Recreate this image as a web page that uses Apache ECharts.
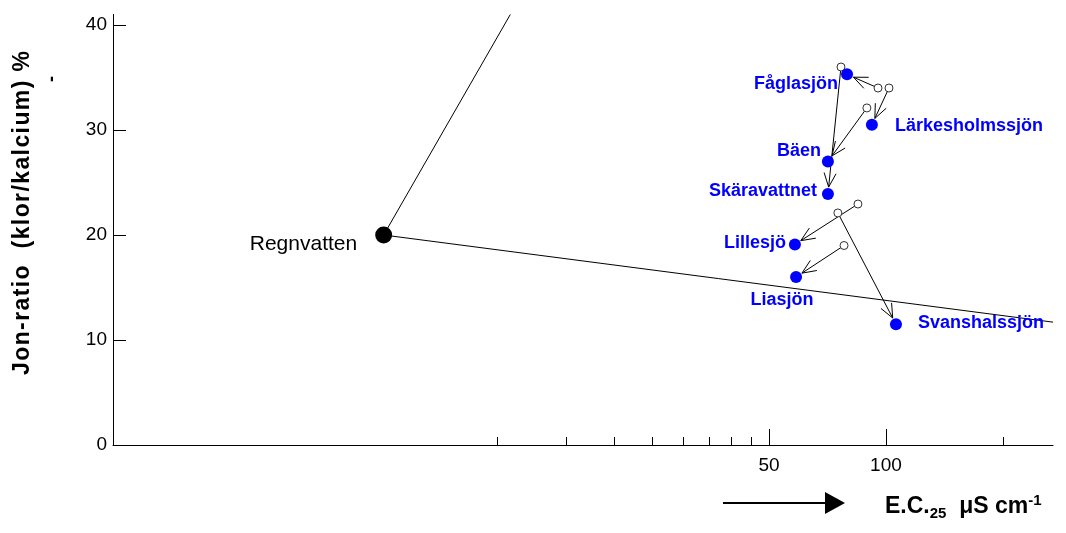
<!DOCTYPE html>
<html>
<head>
<meta charset="utf-8">
<title>Jon-ratio och konduktivitet</title>
<script src="https://cdn.jsdelivr.net/npm/echarts@6/dist/echarts.min.js"></script>
<style>
  html, body { margin: 0; padding: 0; background: #fff; }
  #chart { width: 1066px; height: 533px; }
</style>
</head>
<body>
<div id="chart"></div>
<script>
// Lakes: present-day conductivity (E.C.25, µS/cm) and chloride/calcium ratio (%)
const lakes = ['Fåglasjön', 'Lärkesholmssjön', 'Bäen', 'Skäravattnet', 'Lillesjö', 'Liasjön', 'Svanshalssjön'];
const ecNow = [79.4, 92.0, 70.9, 70.9, 58.3, 58.7, 106.1];
const ratioNow = [35.3, 30.5, 27.0, 23.9, 19.1, 16.0, 11.5];
// Earlier values for the same lakes (start of each arrow)
const ecBefore = [95.4, 101.8, 89.3, 76.6, 84.7, 78.0, 75.2];
const ratioBefore = [34.0, 34.0, 32.1, 36.0, 22.95, 19.0, 22.1];

// Rain water and the two mixing lines drawn from it
const rainName = 'Regnvatten';
const rainEc = 5.1;
const rainRatio = 20;
const mixLineUpper = [[5.1, 20], [10.8, 41]];
const mixLineLower = [[5.1, 20], [269, 11.7]];

// Axis ranges and tick values
const ecMin = 1.026, ecMax = 269;
const ratioMin = 0, ratioMax = 41;
const ecLabelTicks = [50, 100];
const ecMinorTicks = [10, 15, 20, 25, 30, 35, 40, 45, 200];
const ratioTicks = [0, 10, 20, 30, 40];

const yTitle = 'Jon-ratio  (klor/kalcium) %';

const FONT = '"Liberation Sans", Arial, sans-serif';
const BLUE = '#0000ff';

// Label placement around each lake marker
const labelPlacement = {
  'Fåglasjön':       { position: 'left',   distance: 3,  offset: [0, 10] },
  'Lärkesholmssjön': { position: 'right',  distance: 17, offset: [0, 1] },
  'Bäen':            { position: 'left',   distance: 1,  offset: [0, -10] },
  'Skäravattnet':    { position: 'left',   distance: 5,  offset: [0, -3] },
  'Lillesjö':        { position: 'left',   distance: 3,  offset: [0, -1] },
  'Liasjön':         { position: 'bottom', distance: 8,  offset: [-14, 0] },
  'Svanshalssjön':   { position: 'right',  distance: 16, offset: [0, -1] }
};

const nowData = lakes.map((name, i) => ({
  name: name,
  value: [ecNow[i], ratioNow[i]],
  label: labelPlacement[name]
}));
const beforeData = lakes.map((name, i) => [ecBefore[i], ratioBefore[i]]);
const arrowData = lakes.map((name, i) => [ecBefore[i], ratioBefore[i], ecNow[i], ratioNow[i]]);

// Arrow from earlier to present value, with an open V head
const ARROW_GAP = 7, HEAD_LEN = 14, HEAD_HALF = 6;
function renderArrow(params, api) {
  const p0 = api.coord([api.value(0), api.value(1)]);
  const p1 = api.coord([api.value(2), api.value(3)]);
  const dx = p1[0] - p0[0], dy = p1[1] - p0[1];
  const len = Math.sqrt(dx * dx + dy * dy) || 1;
  const ux = dx / len, uy = dy / len;
  const tip = [p1[0] - ux * ARROW_GAP, p1[1] - uy * ARROW_GAP];
  const back = [tip[0] - ux * HEAD_LEN, tip[1] - uy * HEAD_LEN];
  const w1 = [back[0] - uy * HEAD_HALF, back[1] + ux * HEAD_HALF];
  const w2 = [back[0] + uy * HEAD_HALF, back[1] - ux * HEAD_HALF];
  return {
    type: 'group',
    children: [
      { type: 'line', shape: { x1: p0[0], y1: p0[1], x2: tip[0], y2: tip[1] },
        style: { stroke: '#000', lineWidth: 1 } },
      { type: 'polyline', shape: { points: [w1, tip, w2] },
        style: { stroke: '#000', fill: null, lineWidth: 1 } }
    ]
  };
}

// Slightly spaced bold title: one rich-text token per character
const spacedTitle = yTitle.split('').map(ch => '{c|' + ch + '}').join('');

const chart = echarts.init(document.getElementById('chart'), null, { renderer: 'canvas' });

const logAxisBase = {
  type: 'log',
  logBase: 10,
  min: ecMin,
  max: ecMax,
  splitLine: { show: false },
  minorTick: { show: false },
  minorSplitLine: { show: false }
};

chart.setOption({
  animation: false,
  backgroundColor: '#fff',
  grid: { left: 113, right: 13, top: 14.5, bottom: 88, containLabel: false },
  xAxis: [
    Object.assign({}, logAxisBase, {
      position: 'bottom',
      axisLine: { show: true, lineStyle: { color: '#000', width: 1 } },
      axisTick: { show: true, inside: true, length: 8, customValues: ecMinorTicks,
                  lineStyle: { color: '#000', width: 1 } },
      axisLabel: { show: true, customValues: ecLabelTicks, margin: 11,
                   color: '#000', fontSize: 19, fontFamily: FONT,
                   formatter: v => String(Math.round(v)) }
    }),
    Object.assign({}, logAxisBase, {
      position: 'bottom',
      axisLine: { show: false },
      axisTick: { show: true, inside: true, length: 16, customValues: ecLabelTicks,
                  lineStyle: { color: '#000', width: 1 } },
      axisLabel: { show: false }
    })
  ],
  yAxis: {
    type: 'value',
    min: ratioMin,
    max: ratioMax,
    splitLine: { show: false },
    axisLine: { show: true, lineStyle: { color: '#000', width: 1 } },
    axisTick: { show: true, inside: true, length: 13, customValues: ratioTicks,
                lineStyle: { color: '#000', width: 1 } },
    axisLabel: { show: true, customValues: ratioTicks, margin: 6,
                 color: '#000', fontSize: 19, fontFamily: FONT }
  },
  series: [
    {
      name: 'Blandningslinje 1',
      type: 'line',
      data: mixLineUpper,
      symbol: 'none',
      clip: false,
      lineStyle: { color: '#000', width: 1 },
      z: 2
    },
    {
      name: 'Blandningslinje 2',
      type: 'line',
      data: mixLineLower,
      symbol: 'none',
      clip: false,
      lineStyle: { color: '#000', width: 1 },
      z: 2
    },
    {
      name: 'Förändring',
      type: 'custom',
      renderItem: renderArrow,
      data: arrowData,
      encode: { x: [0, 2], y: [1, 3] },
      clip: false,
      z: 3
    },
    {
      name: 'Tidigare',
      type: 'scatter',
      data: beforeData,
      symbol: 'circle',
      symbolSize: 8,
      itemStyle: { color: '#fff', borderColor: '#333', borderWidth: 1, opacity: 1 },
      z: 4
    },
    {
      name: 'Sjöar',
      type: 'scatter',
      data: nowData,
      symbol: 'circle',
      symbolSize: 12,
      itemStyle: { color: BLUE, opacity: 1 },
      label: {
        show: true,
        formatter: '{b}',
        color: BLUE,
        opacity: 1,
        fontSize: 18,
        fontWeight: 'bold',
        fontFamily: FONT
      },
      z: 5
    },
    {
      name: rainName,
      type: 'scatter',
      data: [{ name: rainName, value: [rainEc, rainRatio] }],
      symbol: 'circle',
      symbolSize: 17,
      itemStyle: { color: '#000', opacity: 1 },
      label: {
        show: true,
        formatter: '{b}',
        position: 'left',
        distance: 18,
        offset: [0, 9],
        color: '#000',
        opacity: 1,
        fontSize: 21,
        fontFamily: FONT
      },
      z: 5
    }
  ],
  graphic: [
    {
      type: 'text',
      x: 23, y: 213,
      rotation: Math.PI / 2,
      style: {
        text: spacedTitle,
        align: 'center',
        verticalAlign: 'middle',
        rich: {
          c: { font: 'bold 23px ' + FONT, fill: '#000', padding: [0, 0.7, 0, 0.7] }
        }
      }
    },
    {
      type: 'text',
      x: 52, y: 79,
      rotation: Math.PI / 2,
      style: { text: '-', font: 'bold 18px ' + FONT, fill: '#000', align: 'center', verticalAlign: 'middle' }
    },
    {
      type: 'line',
      shape: { x1: 723, y1: 503, x2: 828, y2: 503 },
      style: { stroke: '#000', lineWidth: 2 }
    },
    {
      type: 'polygon',
      shape: { points: [[825, 492], [845, 503], [825, 514]] },
      style: { fill: '#000' }
    },
    {
      type: 'text',
      x: 885, y: 521,
      style: {
        text: '{m|E.C.}{s|25}{m|  μS cm}{p|-1}',
        align: 'left',
        verticalAlign: 'bottom',
        rich: {
          m: { font: 'bold 23px ' + FONT, fill: '#000', lineHeight: 28, verticalAlign: 'middle' },
          s: { font: 'bold 15px ' + FONT, fill: '#000', lineHeight: 16, verticalAlign: 'bottom' },
          p: { font: 'bold 15px ' + FONT, fill: '#000', lineHeight: 16, verticalAlign: 'top' }
        }
      }
    }
  ]
});
</script>
</body>
</html>
